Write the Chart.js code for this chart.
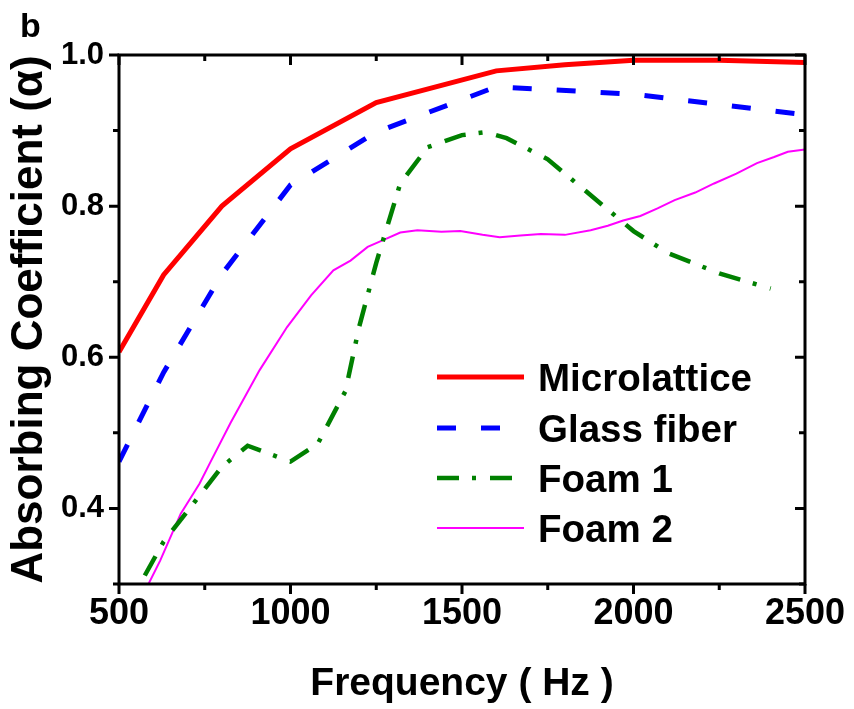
<!DOCTYPE html>
<html>
<head>
<meta charset="utf-8">
<script src="https://cdn.jsdelivr.net/npm/chart.js@4/dist/chart.umd.min.js"></script>
<style>
  html, body { margin: 0; padding: 0; background: #fff; }
  #wrap { width: 854px; height: 709px; }
</style>
</head>
<body>
<div id="wrap"><canvas id="absChart" width="854" height="709"></canvas></div>
<script>
// axis ticks
const freqTicks = [500, 1000, 1500, 2000, 2500];
const freqMinor = [750, 1250, 1750, 2250];
const alphaTicks = [0.4, 0.6, 0.8, 1.0];
const alphaMinor = [0.3, 0.5, 0.7, 0.9];

// series (frequency in Hz, absorbing coefficient)
const microFreq = [500, 630, 800, 1000, 1250, 1600, 1800, 2000, 2250, 2500];
const microAlpha = [0.607, 0.709, 0.800, 0.876, 0.937, 0.979, 0.987, 0.993, 0.993, 0.990];

const glassFreq = [500, 630, 800, 1000, 1250, 1600, 2000, 2500];
const glassAlpha = [0.462, 0.580, 0.710, 0.828, 0.898, 0.958, 0.948, 0.921];

const foam1Freq = [500, 630, 800, 875, 1000, 1080, 1160, 1200, 1250, 1320, 1400, 1500, 1570, 1630, 1750, 2000, 2100, 2250, 2400];
const foam1Alpha = [0.250, 0.356, 0.455, 0.483, 0.462, 0.486, 0.555, 0.640, 0.725, 0.830, 0.878, 0.894, 0.898, 0.890, 0.862, 0.767, 0.738, 0.711, 0.691];

const foam2Freq = [575, 620, 680, 735, 765, 825, 910, 990, 1060, 1125, 1175, 1225, 1270, 1320, 1370, 1440, 1495, 1560, 1610, 1670, 1730, 1800, 1875, 1925, 1970, 2020, 2070, 2120, 2180, 2235, 2300, 2360, 2410, 2450, 2500];
const foam2Alpha = [0.290, 0.331, 0.393, 0.433, 0.460, 0.513, 0.583, 0.640, 0.682, 0.715, 0.728, 0.746, 0.755, 0.765, 0.768, 0.766, 0.767, 0.762, 0.759, 0.761, 0.763, 0.762, 0.768, 0.774, 0.781, 0.787, 0.797, 0.808, 0.818, 0.830, 0.843, 0.857, 0.865, 0.872, 0.875];

const seriesNames = ["Microlattice", "Glass fiber", "Foam 1", "Foam 2"];

const FONT = "'Liberation Sans', Arial, Helvetica, sans-serif";

function pts(xs, ys) {
  return xs.map((x, i) => ({ x: x, y: ys[i] }));
}

// frame, minor/major ticks, in-plot legend and panel letter
const decorPlugin = {
  id: "decor",
  afterDatasetsDraw(chart) {
    const ctx = chart.ctx;
    const a = chart.chartArea;
    const xs = chart.scales.x;
    const ys = chart.scales.y;
    ctx.save();
    ctx.strokeStyle = "#000";
    ctx.lineWidth = 3;
    ctx.strokeRect(a.left, a.top, a.right - a.left, a.bottom - a.top);

    const major = 10, minor = 6;
    ctx.lineWidth = 3;
    ctx.beginPath();
    freqTicks.concat(freqMinor).forEach(v => {
      const px = xs.getPixelForValue(v);
      const len = freqTicks.includes(v) ? major : minor;
      ctx.moveTo(px, a.bottom);
      ctx.lineTo(px, a.bottom + len);
      ctx.moveTo(px, a.top);
      ctx.lineTo(px, a.top + len);
    });
    alphaTicks.concat(alphaMinor).forEach(v => {
      const py = ys.getPixelForValue(v);
      const len = alphaTicks.includes(v) ? major : minor;
      ctx.moveTo(a.left, py);
      ctx.lineTo(a.left - len, py);
      ctx.moveTo(a.right, py);
      ctx.lineTo(a.right - len, py);
    });
    ctx.stroke();

    // legend inside the plot
    const rowY = [377, 428, 478, 528];
    ctx.font = "bold 38.5px " + FONT;
    ctx.fillStyle = "#000";
    ctx.textBaseline = "alphabetic";
    chart.data.datasets.forEach((ds, i) => {
      ctx.beginPath();
      ctx.strokeStyle = ds.borderColor;
      ctx.lineWidth = ds.borderWidth;
      ctx.setLineDash(ds.borderDash || []);
      ctx.moveTo(437, rowY[i]);
      ctx.lineTo(524, rowY[i]);
      ctx.stroke();
      ctx.setLineDash([]);
      ctx.fillText(ds.label, 538, rowY[i] + 14);
    });

    ctx.font = "bold 34px " + FONT;
    ctx.fillText("b", 20, 37);
    ctx.restore();
  }
};

const ctx = document.getElementById("absChart").getContext("2d");
new Chart(ctx, {
  type: "line",
  data: {
    datasets: [
      {
        label: seriesNames[0],
        data: pts(microFreq, microAlpha),
        borderColor: "#ff0000",
        borderWidth: 5
      },
      {
        label: seriesNames[1],
        data: pts(glassFreq, glassAlpha),
        borderColor: "#0000ff",
        borderWidth: 5,
        borderDash: [19, 25]
      },
      {
        label: seriesNames[2],
        data: pts(foam1Freq, foam1Alpha),
        borderColor: "#008000",
        borderWidth: 4.5,
        borderDash: [22, 13, 4, 14]
      },
      {
        label: seriesNames[3],
        data: pts(foam2Freq, foam2Alpha),
        borderColor: "#ff00ff",
        borderWidth: 2
      }
    ]
  },
  options: {
    responsive: false,
    animation: false,
    events: [],
    elements: {
      point: { radius: 0 },
      line: { tension: 0, fill: false, borderCapStyle: "butt" }
    },
    layout: { padding: { top: 55, right: 49, left: 0, bottom: 0 } },
    plugins: {
      legend: { display: false },
      tooltip: { enabled: false }
    },
    scales: {
      x: {
        type: "linear",
        min: 500,
        max: 2500,
        afterBuildTicks: s => { s.ticks = freqTicks.map(v => ({ value: v })); },
        afterFit: s => { s.height = 125; },
        grid: { display: false, drawTicks: false },
        border: { display: false },
        ticks: {
          color: "#000",
          padding: 8,
          maxRotation: 0,
          autoSkip: false,
          font: { family: FONT, size: 36, weight: "bold" },
          callback: v => String(v)
        },
        title: {
          display: true,
          text: "Frequency ( Hz )",
          color: "#000",
          font: { family: FONT, size: 39, weight: "bold" },
          padding: { top: 0, bottom: 1 }
        }
      },
      y: {
        min: 0.3,
        max: 1.0,
        afterBuildTicks: s => { s.ticks = alphaTicks.map(v => ({ value: v })); },
        afterFit: s => { s.width = 119; },
        grid: { display: false, drawTicks: false },
        border: { display: false },
        ticks: {
          color: "#000",
          padding: 15,
          font: { family: FONT, size: 31, weight: "bold" },
          callback: v => Number(v).toFixed(1)
        },
        title: {
          display: true,
          text: "Absorbing Coefficient (\u03b1)",
          color: "#000",
          font: { family: FONT, size: 44, weight: "bold" },
          padding: { top: 3, bottom: 0 }
        }
      }
    }
  },
  plugins: [decorPlugin]
});
</script>
</body>
</html>
